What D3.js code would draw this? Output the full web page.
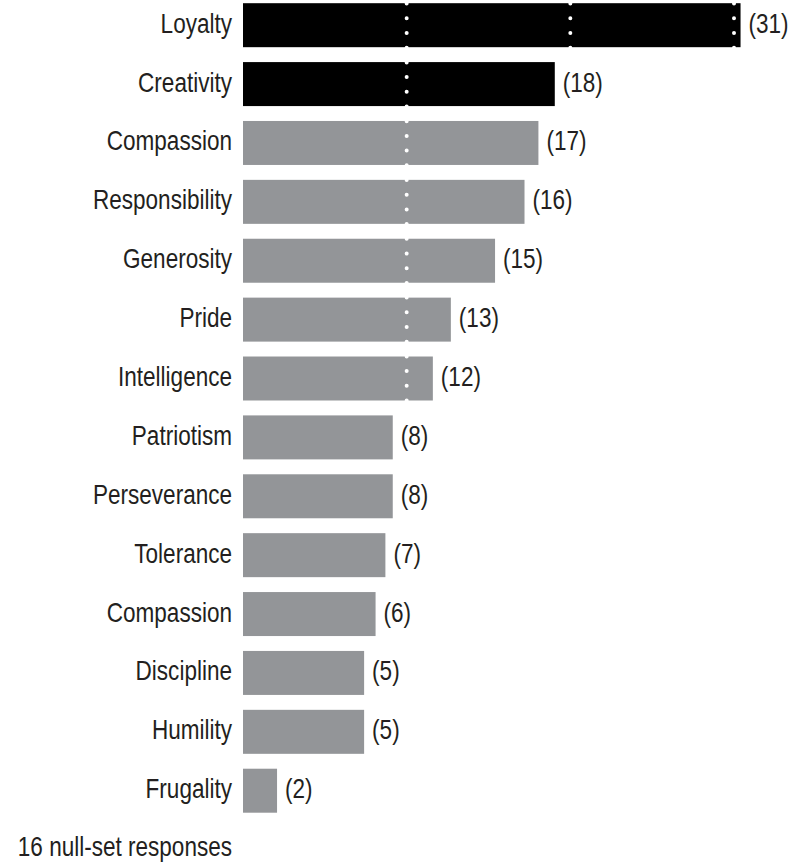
<!DOCTYPE html>
<html>
<head>
<meta charset="utf-8">
<script src="https://cdn.jsdelivr.net/npm/d3@7"></script>
<style>
  html, body { margin: 0; padding: 0; background: #fff; }
  svg { display: block; }
  text { font-family: "Liberation Sans", Arial, sans-serif; fill: #231f20; }
</style>
</head>
<body>
<svg id="chart" width="805" height="863"></svg>
<script>
// Categories (top to bottom)
const categories = ["Loyalty", "Creativity", "Compassion", "Responsibility", "Generosity", "Pride",
  "Intelligence", "Patriotism", "Perseverance", "Tolerance", "Compassion", "Discipline", "Humility", "Frugality"];
// Response counts shown as labels
const counts = [31, 18, 17, 16, 15, 13, 12, 8, 8, 7, 6, 5, 5, 2];
// Bar lengths as drawn in the original (same units as the gridlines)
const barLengths = [30.4, 19.05, 18.05, 17.2, 15.4, 12.7, 11.6, 9.15, 9.15, 8.7, 8.1, 7.4, 7.4, 2.08];
// Highlighted (black) bars
const highlighted = [true, true, false, false, false, false, false, false, false, false, false, false, false, false];
// Dotted gridline values
const gridValues = [10, 20, 30];
const footnote = "16 null-set responses";

const svg = d3.select("#chart");
const rows = categories.map((c, i) => ({ id: i, name: c, count: counts[i], len: barLengths[i], hi: highlighted[i] }));

const x = d3.scaleLinear().domain([0, 30]).range([243, 734]);
const y = d3.scaleBand().domain(rows.map(d => d.id)).range([3.2, 812.7]).paddingInner(0.253).paddingOuter(0);

const fontSize = 27.5;
const squeeze = 0.82;   // condensed look
const baseOff = 7.5;

// bars
svg.append("g").selectAll("rect").data(rows).join("rect")
  .attr("x", x(0))
  .attr("y", d => y(d.id))
  .attr("width", d => x(d.len) - x(0))
  .attr("height", y.bandwidth())
  .attr("fill", d => d.hi ? "#000000" : "#939598");

// dotted white gridlines (visible only over the bars)
svg.append("g").selectAll("line").data(gridValues).join("line")
  .attr("x1", d => x(d)).attr("x2", d => x(d))
  .attr("y1", 3.6).attr("y2", 812)
  .attr("stroke", "#ffffff")
  .attr("stroke-width", 4)
  .attr("stroke-linecap", "round")
  .attr("stroke-dasharray", "0,14.7");

function condensedText(sel, xf, yf, anchor) {
  sel.attr("transform", (d, i) => `translate(${xf(d, i)},${yf(d, i)}) scale(${squeeze},1)`)
    .attr("text-anchor", anchor)
    .style("font-size", fontSize + "px");
}

// category labels
svg.append("g").selectAll("text").data(rows).join("text")
  .call(condensedText, () => 232, d => y(d.id) + y.bandwidth() / 2 + baseOff, "end")
  .text(d => d.name);

// value labels
svg.append("g").selectAll("text").data(rows).join("text")
  .call(condensedText, d => x(d.len) + 8, d => y(d.id) + y.bandwidth() / 2 + baseOff, "start")
  .text(d => "(" + d.count + ")");

// footnote
svg.append("g").selectAll("text").data([footnote]).join("text")
  .call(condensedText, () => 232, () => 856, "end")
  .text(d => d);
</script>
</body>
</html>
